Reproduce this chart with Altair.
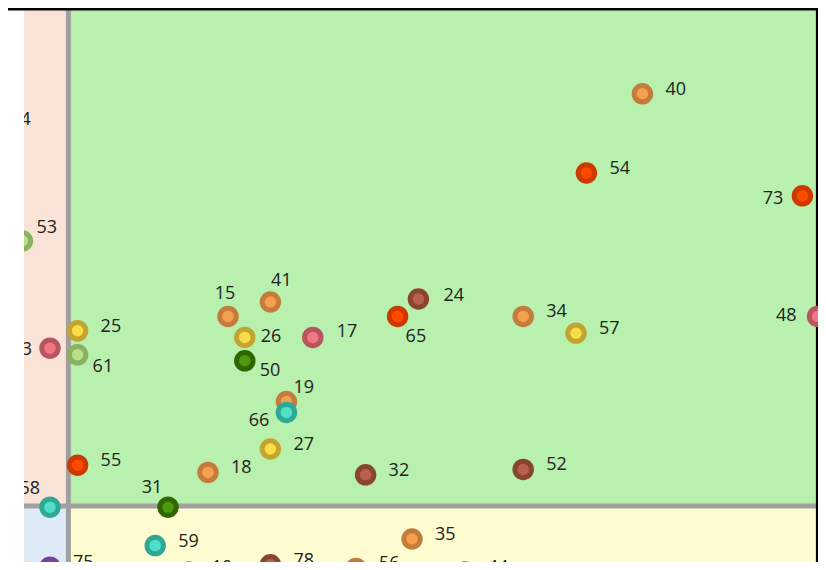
import altair as alt
import pandas as pd

# ---- data (x: 0-100 units, y units, y up) ----
labels = ["40", "54", "73", "53", "48", "15", "41", "26", "17", "50", "24", "65",
          "34", "57", "25", "61", "63", "14", "19", "66", "27", "55", "18", "32",
          "52", "58", "31", "59", "35", "75", "10", "78", "56", "44"]
xs = [77.3, 70.3, 97.3, -0.2, 99.2, 25.5, 30.8, 27.6, 36.1, 27.6, 49.3, 46.7,
      62.4, 69.0, 6.7, 6.7, 3.25, -4.6, 32.8, 32.8, 30.8, 6.7, 23.0, 42.7,
      62.4, 3.25, 18.0, 16.4, 48.5, 3.25, 20.6, 30.8, 41.5, 55.1]
ys = [80.7, 67.5, 63.7, 56.2, 43.6, 43.6, 46.0, 40.1, 40.1, 36.2, 46.5, 43.6,
      43.6, 40.8, 41.2, 37.2, 38.3, 75.7, 29.4, 27.6, 21.5, 18.8, 17.6, 17.2,
      18.1, 11.8, 11.8, 5.4, 6.5, 1.8, 1.0, 2.2, 1.6, 1.0]
groups = ["orange", "red", "red", "lightgreen", "pink", "orange", "orange", "yellow",
          "pink", "darkgreen", "brown", "red", "orange", "yellow", "yellow",
          "lightgreen", "pink", "orange", "orange", "teal", "yellow", "red", "orange",
          "brown", "brown", "teal", "darkgreen", "teal", "orange", "purple", "pink",
          "brown", "orange", "red"]

# quadrant thresholds and frame
x_split = 5.55
y_split = 12.0
x_max = 99.3
y_max = 95.0
x_min = -10.0
y_min = -10.0

# ---- styles ----
group_names = ["orange", "red", "yellow", "brown", "pink", "lightgreen",
               "darkgreen", "teal", "purple"]
fills = ["#F5A04E", "#FF4A00", "#F8DC48", "#B8614A", "#F07882", "#B8E08C",
         "#4E9A0E", "#50E0C8", "#A060D0"]
rings = ["#C47C3C", "#CC3A00", "#C4A430", "#8A4530", "#B85560", "#8AB060",
         "#2E6600", "#30A898", "#7840A0"]

# label placement (dx, dy, align) in pixels
E = (23, -4, "left")
offsets = {
    "73": (-19, 3, "right"),
    "48": (-21, 0, "right"),
    "63": (-18, 2, "right"),
    "66": (-17, 9, "right"),
    "53": (14, -13, "left"),
    "15": (-3, -22, "center"),
    "41": (11, -21, "center"),
    "31": (-16, -19, "center"),
    "58": (-10, -18, "right"),
    "19": (7, -14, "left"),
    "26": (16, 0, "left"),
    "50": (15, 10, "left"),
    "61": (15, 12, "left"),
    "65": (8, 21, "left"),
    "17": (24, -5, "left"),
    "24": (25, -3, "left"),
}

PLOT_W = 794
PLOT_H = 554

df = pd.DataFrame({"label": labels, "x": xs, "y": ys, "group": groups})

regions = pd.DataFrame({
    "x": [x_min, x_split, x_min, x_split],
    "x2": [x_split, x_max, x_split, x_max],
    "y": [y_split, y_split, y_min, y_min],
    "y2": [y_max, y_max, y_split, y_split],
    "zone": ["tl", "tr", "bl", "br"],
})

xs_scale = alt.Scale(domain=[0, PLOT_W / 8], nice=False, zero=False)
ys_scale = alt.Scale(domain=[y_max - PLOT_H / 6, y_max], nice=False, zero=False)
X = lambda f: alt.X(f, type="quantitative", scale=xs_scale, axis=None)
Y = lambda f: alt.Y(f, type="quantitative", scale=ys_scale, axis=None)

bg = alt.Chart(regions).mark_rect(clip=True).encode(
    x=X("x"), x2="x2", y=Y("y"), y2="y2",
    fill=alt.Fill("zone:N", scale=alt.Scale(
        domain=["tl", "tr", "bl", "br"],
        range=["#FAE4D8", "#B8F0AE", "#DEEAF6", "#FFFDD0"]), legend=None),
)

vline = alt.Chart(pd.DataFrame({"x": [x_split], "y": [y_min], "y2": [y_max]})).mark_rule(
    color="#A0A0A0", strokeWidth=5, clip=True).encode(x=X("x"), y=Y("y"), y2="y2")
hline = alt.Chart(pd.DataFrame({"y": [y_split], "x": [x_min], "x2": [x_max]})).mark_rule(
    color="#A0A0A0", strokeWidth=5, clip=True).encode(y=Y("y"), x=X("x"), x2="x2")

top_border = alt.Chart(pd.DataFrame({"y": [y_max], "x": [x_min], "x2": [x_max + 0.3]})).mark_rule(
    color="#000000", strokeWidth=5).encode(y=Y("y"), x=X("x"), x2="x2")
right_border = alt.Chart(pd.DataFrame({"x": [x_max], "y": [y_min], "y2": [y_max]})).mark_rule(
    color="#000000", strokeWidth=5).encode(x=X("x"), y=Y("y"), y2="y2")

points = alt.Chart(df).mark_circle(size=272, strokeWidth=5, opacity=1, clip=True).encode(
    x=X("x"), y=Y("y"),
    fill=alt.Fill("group:N", scale=alt.Scale(domain=group_names, range=fills), legend=None),
    stroke=alt.Stroke("group:N", scale=alt.Scale(domain=group_names, range=rings), legend=None),
)

text_layers = []
for lab in labels:
    dx, dy, align = offsets.get(lab, E)
    text_layers.append(
        alt.Chart(df).transform_filter(alt.datum.label == lab).mark_text(
            dx=dx, dy=dy, align=align, baseline="middle", font="Open Sans",
            fontSize=18, color="#222222", clip=True,
        ).encode(x=X("x"), y=Y("y"), text="label:N")
    )

chart = alt.layer(bg, vline, hline, top_border, right_border, points, *text_layers).resolve_scale(
    fill="independent", stroke="independent"
).properties(
    width=PLOT_W, height=PLOT_H,
    padding={"left": 16, "top": 0, "right": 0, "bottom": 0},
    autosize=alt.AutoSizeParams(type="none"),
    background="white",
).configure_view(strokeWidth=0)

chart.save("out.html", embed_options={"renderer": "svg", "actions": False})
